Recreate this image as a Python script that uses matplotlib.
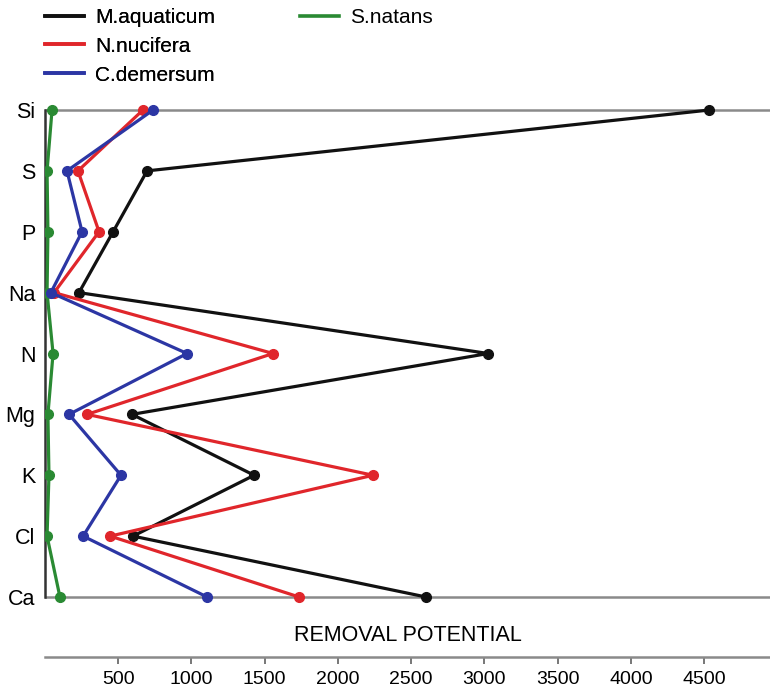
import numpy as np
import matplotlib
matplotlib.use('Agg')
import matplotlib.pyplot as plt

plt.rcParams['font.family'] = ['Liberation Sans', 'DejaVu Sans']

# elements, top to bottom
elements = ['Si', 'S', 'P', 'Na', 'N', 'Mg', 'K', 'Cl', 'Ca']

# removal potential
m_aquaticum = [4536, 697, 465, 232, 3026, 594, 1428, 601, 2602]
n_nucifera = [669, 225, 369, 62, 1557, 287, 2240, 445, 1735]
c_demersum = [738, 150, 253, 40, 970, 164, 519, 260, 1107]
s_natans = [48, 14, 20, 14, 55, 20, 27, 14, 102]

x_ticks = [500, 1000, 1500, 2000, 2500, 3000, 3500, 4000, 4500]

series = [
    ('M.aquaticum', m_aquaticum, '#111111'),
    ('N.nucifera', n_nucifera, '#e0262b'),
    ('C.demersum', c_demersum, '#2c36a4'),
    ('S.natans', s_natans, '#2a8a33'),
]

fig = plt.figure(figsize=(7.7, 6.95), dpi=100)
ax = fig.add_axes([45 / 770, 38 / 695, 725 / 770, 557 / 695])

y = np.arange(len(elements))

# reference lines at the first and last element
ax.axhline(y[0], color='#8a8a8a', lw=1.8, zorder=1)
ax.axhline(y[-1], color='#8a8a8a', lw=1.8, zorder=1)

lines = {}
for name, vals, col in [series[3], series[0], series[1], series[2]]:
    ln, = ax.plot(vals, y, '-o', color=col, lw=2.3, ms=7, label=name, zorder=3)
    lines[name] = ln

ax.set_xlim(0, 4950)
ax.set_ylim(8 + 60 / 60.875, -10 / 60.875)

ax.set_yticks(y)
ax.set_yticklabels(elements, fontsize=15.5)
ax.tick_params(axis='y', length=0, pad=7)

ax.set_xticks(x_ticks)
ax.set_xticklabels([str(t) for t in x_ticks], fontsize=14)
ax.tick_params(axis='x', length=5, width=1.4, color='#777777', pad=5)

for s in ['top', 'right']:
    ax.spines[s].set_visible(False)
ax.spines['left'].set_bounds(y[0], y[-1])
ax.spines['left'].set_color('#333333')
ax.spines['left'].set_linewidth(1.8)
ax.spines['bottom'].set_color('#8a8a8a')
ax.spines['bottom'].set_linewidth(1.8)

ax.text(0.5, 0.038, 'REMOVAL POTENTIAL', transform=ax.transAxes,
        ha='center', va='center', fontsize=15.5)

# legends: three entries in the first column, one in the second
h1 = [lines['M.aquaticum'], lines['N.nucifera'], lines['C.demersum']]
leg1 = fig.legend(h1, [h.get_label() for h in h1], loc='upper left',
                  bbox_to_anchor=(45 / 770, 1 - 8 / 695), frameon=False,
                  fontsize=15, handlelength=1.85, handletextpad=0.55,
                  labelspacing=0.47, borderpad=0, borderaxespad=0)
for lh in leg1.get_lines():
    lh.set_marker('')
    lh.set_linewidth(2.6)
h2 = [lines['S.natans']]
leg2 = fig.legend(h2, [h2[0].get_label()], loc='upper left',
                  bbox_to_anchor=(300 / 770, 1 - 8 / 695), frameon=False,
                  fontsize=15, handlelength=1.85, handletextpad=0.55,
                  borderpad=0, borderaxespad=0)
for lh in leg2.get_lines():
    lh.set_marker('')
    lh.set_linewidth(2.6)
fig.add_artist(leg1)

fig.savefig('out.png', dpi=100)
